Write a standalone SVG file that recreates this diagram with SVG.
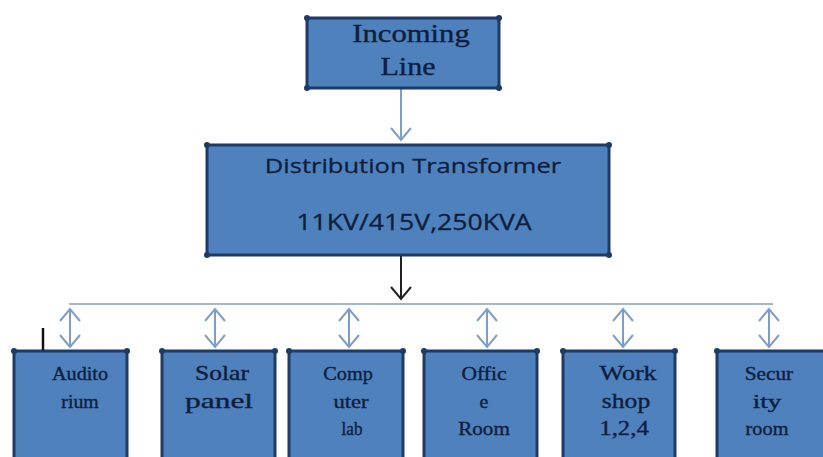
<svg xmlns="http://www.w3.org/2000/svg" width="823" height="457" viewBox="0 0 823 457">
<style>
.box{fill:#4F81BD;stroke:#1F3A64;stroke-width:3}
.dot{fill:#1F3A64}
.serif{font-family:"Liberation Serif","Times New Roman",serif;fill:#0E1E3E;stroke:#0E1E3E;stroke-width:0.35;text-anchor:middle}
.sans{font-family:"Open Sans","Liberation Sans",Arial,sans-serif;fill:#0E1E3E;stroke:#0E1E3E;stroke-width:0.3;text-anchor:middle}
.conn{fill:none;stroke:#7F9DC9;stroke-width:2}
.bus{fill:none;stroke:#A3B6CF;stroke-width:2}
.black{fill:none;stroke:#222;stroke-width:2}
</style>
<defs>
<marker id="ah" viewBox="-1 -11 15 22" refX="12" refY="0" markerWidth="15" markerHeight="22" markerUnits="userSpaceOnUse" orient="auto-start-reverse">
<path d="M0,-10 L12,0 L0,10" fill="none" stroke="#7F9DC9" stroke-width="2"/>
</marker>
<marker id="ahb" viewBox="-1 -11 15 22" refX="12" refY="0" markerWidth="15" markerHeight="22" markerUnits="userSpaceOnUse" orient="auto">
<path d="M0,-10 L12,0 L0,10" fill="none" stroke="#222" stroke-width="2"/>
</marker>
</defs>
<rect width="823" height="457" fill="#fff"/>
<g id="connectors">
<line class="conn" x1="401" y1="89" x2="401" y2="140" marker-end="url(#ah)"/>
<line class="black" x1="401" y1="256" x2="401" y2="299" marker-end="url(#ahb)"/>
<line class="bus" x1="69" y1="304" x2="773" y2="304"/>
<line class="conn" x1="70" y1="309" x2="70" y2="347" marker-start="url(#ah)" marker-end="url(#ah)"/>
<line class="conn" x1="215" y1="309" x2="215" y2="347" marker-start="url(#ah)" marker-end="url(#ah)"/>
<line class="conn" x1="349" y1="309" x2="349" y2="347" marker-start="url(#ah)" marker-end="url(#ah)"/>
<line class="conn" x1="487" y1="309" x2="487" y2="347" marker-start="url(#ah)" marker-end="url(#ah)"/>
<line class="conn" x1="623" y1="309" x2="623" y2="347" marker-start="url(#ah)" marker-end="url(#ah)"/>
<line class="conn" x1="769" y1="309" x2="769" y2="347" marker-start="url(#ah)" marker-end="url(#ah)"/>
</g>
<g id="incoming">
<rect class="box" x="307" y="18" width="192" height="70"/>
<circle class="dot" cx="307" cy="18" r="3"/><circle class="dot" cx="499" cy="18" r="3"/><circle class="dot" cx="307" cy="88" r="3"/><circle class="dot" cx="499" cy="88" r="3"/>
<text class="serif" transform="translate(411,42) scale(1.2,1)" font-size="25" textLength="98" lengthAdjust="spacingAndGlyphs">Incoming</text>
<text class="serif" transform="translate(408,75) scale(1.2,1)" font-size="25" textLength="46" lengthAdjust="spacingAndGlyphs">Line</text>
</g>
<g id="transformer">
<rect class="box" x="207" y="145" width="402" height="110"/>
<circle class="dot" cx="207" cy="145" r="3"/><circle class="dot" cx="609" cy="145" r="3"/><circle class="dot" cx="207" cy="255" r="3"/><circle class="dot" cx="609" cy="255" r="3"/>
<text class="sans" transform="translate(413,173) scale(1.3,1)" font-size="20" textLength="228" lengthAdjust="spacingAndGlyphs">Distribution Transformer</text>
<text class="sans" transform="translate(414,230) scale(1.3,1)" font-size="21" textLength="181" lengthAdjust="spacingAndGlyphs">11KV/415V,250KVA</text>
</g>
<g id="auditorium">
<rect class="box" x="14" y="351" width="113" height="130"/>
<circle class="dot" cx="14" cy="351" r="3"/><circle class="dot" cx="127" cy="351" r="3"/>
<text class="serif" transform="translate(80,380) scale(1.1,1)" font-size="18" textLength="51" lengthAdjust="spacingAndGlyphs">Audito</text>
<text class="serif" transform="translate(80,408) scale(1.1,1)" font-size="18" textLength="34" lengthAdjust="spacingAndGlyphs">rium</text>
</g>
<line x1="43" y1="328" x2="43" y2="350" stroke="#111" stroke-width="2.5"/>
<g id="solar">
<rect class="box" x="162" y="351" width="113" height="130"/>
<circle class="dot" cx="162" cy="351" r="3"/><circle class="dot" cx="275" cy="351" r="3"/>
<text class="serif" transform="translate(222,380) scale(1.1,1)" font-size="20" textLength="49" lengthAdjust="spacingAndGlyphs">Solar</text>
<text class="serif" transform="translate(219,408) scale(1.1,1)" font-size="20" textLength="62" lengthAdjust="spacingAndGlyphs">panel</text>
</g>
<g id="computer">
<rect class="box" x="289" y="351" width="114" height="130"/>
<circle class="dot" cx="289" cy="351" r="3"/><circle class="dot" cx="403" cy="351" r="3"/>
<text class="serif" transform="translate(348,380) scale(1.1,1)" font-size="18" textLength="45" lengthAdjust="spacingAndGlyphs">Comp</text>
<text class="serif" transform="translate(351,408) scale(1.1,1)" font-size="18" textLength="32" lengthAdjust="spacingAndGlyphs">uter</text>
<text class="serif" transform="translate(352,435) scale(1.1,1)" font-size="18" textLength="19" lengthAdjust="spacingAndGlyphs">lab</text>
</g>
<g id="office">
<rect class="box" x="424" y="351" width="113" height="130"/>
<circle class="dot" cx="424" cy="351" r="3"/><circle class="dot" cx="537" cy="351" r="3"/>
<text class="serif" transform="translate(484,380) scale(1.1,1)" font-size="18" textLength="41" lengthAdjust="spacingAndGlyphs">Offic</text>
<text class="serif" transform="translate(484,408) scale(1.1,1)" font-size="18">e</text>
<text class="serif" transform="translate(484,435) scale(1.1,1)" font-size="18" textLength="47" lengthAdjust="spacingAndGlyphs">Room</text>
</g>
<g id="workshop">
<rect class="box" x="563" y="351" width="112" height="130"/>
<circle class="dot" cx="563" cy="351" r="3"/><circle class="dot" cx="675" cy="351" r="3"/>
<text class="serif" transform="translate(628,380) scale(1.1,1)" font-size="20" textLength="52" lengthAdjust="spacingAndGlyphs">Work</text>
<text class="serif" transform="translate(626,408) scale(1.1,1)" font-size="20" textLength="44" lengthAdjust="spacingAndGlyphs">shop</text>
<text class="serif" transform="translate(624,435) scale(1.1,1)" font-size="20" textLength="45" lengthAdjust="spacingAndGlyphs">1,2,4</text>
</g>
<g id="security">
<rect class="box" x="717" y="351" width="130" height="130"/>
<circle class="dot" cx="717" cy="351" r="3"/>
<text class="serif" transform="translate(769,380) scale(1.1,1)" font-size="18" textLength="44" lengthAdjust="spacingAndGlyphs">Secur</text>
<text class="serif" transform="translate(767,408) scale(1.1,1)" font-size="18" textLength="26" lengthAdjust="spacingAndGlyphs">ity</text>
<text class="serif" transform="translate(767,435) scale(1.1,1)" font-size="18" textLength="39" lengthAdjust="spacingAndGlyphs">room</text>
</g>
</svg>
